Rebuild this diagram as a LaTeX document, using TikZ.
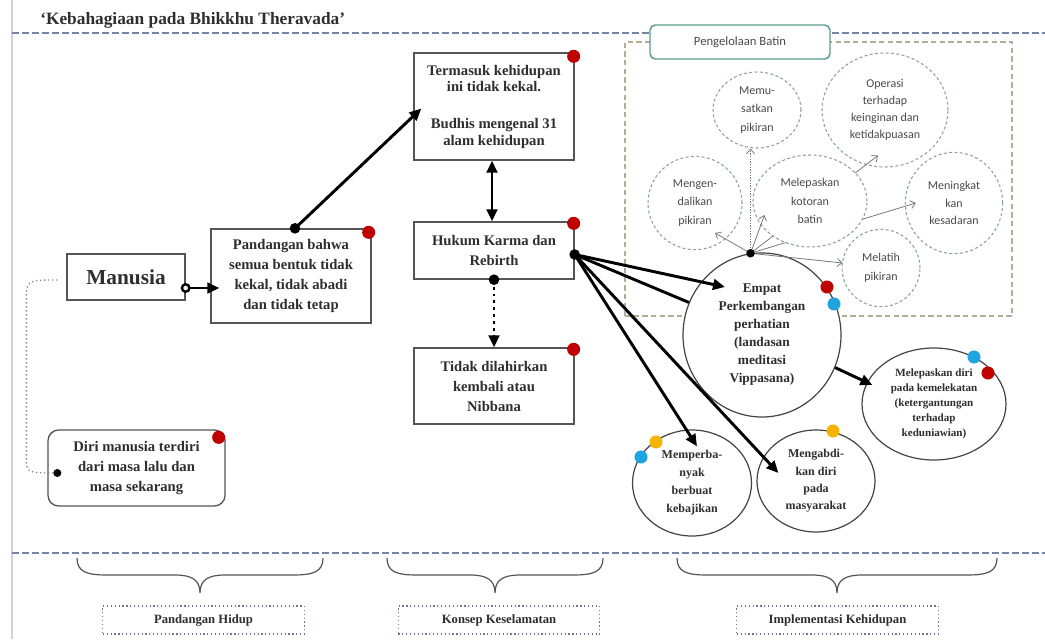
\documentclass[tikz,border=0pt]{standalone}
\usepackage{fontspec}
\setmainfont{Liberation Serif}
\newfontfamily\carl{Carlito}
\usetikzlibrary{arrows.meta,shapes.geometric,calc}
\definecolor{boxc}{HTML}{555555}
\definecolor{ellc}{HTML}{444444}
\definecolor{dcc}{HTML}{8AA39D}
\definecolor{tealc}{HTML}{5B9B8C}
\definecolor{rectc}{HTML}{B3AD96}
\definecolor{sepc}{HTML}{7884A6}
\definecolor{lblc}{HTML}{6C7598}
\definecolor{redc}{HTML}{C00000}
\definecolor{bluec}{HTML}{1FA4E0}
\definecolor{orgc}{HTML}{F4B400}
\definecolor{txt}{HTML}{2E2E2E}
\definecolor{txtg}{HTML}{4A4A4A}
\definecolor{thinc}{HTML}{7A7A7A}
\tikzset{
  box/.style={draw=boxc, line width=1pt, fill=white, align=center, text=txt,
    font=\bfseries\fontsize{11}{15}\selectfont, inner sep=0pt},
  ell/.style={ellipse, draw=ellc, line width=0.9pt, fill=white, align=center,
    text=txt, inner sep=0pt},
  dc/.style={ellipse, draw=dcc, line width=0.8pt, dash pattern=on 2.2pt off 1.8pt,
    align=center, text=txtg, font=\carl\fontsize{9}{14}\selectfont, inner sep=0pt},
  sepline/.style={draw=sepc, line width=1.2pt, dash pattern=on 5pt off 2.5pt},
  blk/.style={line width=2.2pt, black},
  arr/.style={blk, -{Triangle[length=9pt,width=8pt]}},
  thinarr/.style={draw=thinc, line width=0.6pt, -{Straight Barb[length=3.5pt,width=6pt]}},
  lbl/.style={draw=lblc, line width=0.9pt, dotted, minimum width=151pt, minimum height=21pt,
    font=\bfseries\fontsize{9.5}{11}\selectfont, text=txt, inner sep=0pt},
  brc/.style={draw=boxc, line width=0.9pt},
  rdot/.style={fill=redc},
  bdot/.style={fill=bluec},
  odot/.style={fill=orgc},
}
\begin{document}
\begin{tikzpicture}[x=0.75pt,y=-0.75pt]
\useasboundingbox (0,0) rectangle (1045,639);
\fill[white] (0,0) rectangle (1045,639);

% page border and separators
\draw[draw=black!18, line width=1.1pt] (12,0) -- (12,639);
\draw[sepline] (12,33) -- (1045,33);
\draw[sepline] (12,553) -- (1045,553);

\node[anchor=west, font=\bfseries\fontsize{13}{15}\selectfont, text=txt, inner sep=0pt] (title) at (40,20) {`Kebahagiaan pada Bhikkhu Theravada'};

% Pengelolaan Batin frame
\node[draw=rectc, dash pattern=on 4pt off 2.5pt, line width=0.9pt, minimum width=290.25pt, minimum height=205.5pt, inner sep=0pt] (frame) at (818.5,179) {};
\node[draw=tealc, rounded corners=4pt, line width=1.1pt, fill=white, minimum width=135pt, minimum height=25.5pt,
  font=\carl\fontsize{9.5}{11}\selectfont, text=txtg, inner sep=0pt] (pb) at (740,42) {Pengelolaan Batin};

% Empat circle
\node[ell, minimum width=118.5pt, minimum height=123pt, font=\bfseries\fontsize{10}{13.5}\selectfont] (emp) at (762,335)
  {Empat\\Perkembangan\\perhatian\\(landasan\\meditasi\\Vippasana)};
\coordinate (sd) at (emp.98);

% dashed circles (outline only)
\node[dc, minimum width=66pt, minimum height=57pt] (mem) at (757,110) {Memu-\\satkan\\pikiran};
\node[dc, minimum width=94.5pt, minimum height=85.5pt, font=\carl\fontsize{9}{12.75}\selectfont] (oper) at (885,110) {Operasi\\terhadap\\keinginan dan\\ketidakpuasan};
\node[dc, minimum width=70.5pt, minimum height=70pt] (mgd) at (695,203) {Mengen-\\dalikan\\pikiran};
\node[dc, minimum width=73pt, minimum height=76pt, font=\carl\fontsize{9}{13}\selectfont] (ming) at (954,203) {Meningkat\\kan\\kesadaran};
\node[dc, minimum width=58.5pt, minimum height=58pt] (mlt) at (881,268) {Melatih\\pikiran};

% lines hidden partly behind Melepaskan kotoran batin
\draw[thinarr] (sd) -- ($(oper.south)+(-7,-12)$);
\draw[thinarr] (sd) -- ($(ming.west)+(11,0)$);
\node[dc, fill=white, minimum width=85.5pt, minimum height=69pt] (lkb) at (810,201) {Melepaskan\\kotoran\\batin};

\draw[thinarr, dash pattern=on 1pt off 1pt] (sd) -- (sd |- mem.south);
\draw[thinarr] (sd) -- ($(mgd.center)+(20,30)$);
\draw[thinarr] (sd) -- ($(lkb.west)+(12,14)$);
\draw[thinarr] (sd) -- ($(mlt.west)+(1,-5)$);
\fill[black] (sd) circle[radius=3.2pt];

% left column
\node[box, minimum width=88.5pt, minimum height=34.5pt, font=\bfseries\fontsize{16}{18}\selectfont] (man) at (126,277) {Manusia};
\node[box, minimum width=120pt, minimum height=70.5pt] (pand) at (291,276) {Pandangan bahwa\\semua bentuk tidak\\kekal, tidak abadi\\dan tidak tetap};
\node[box, rounded corners=8pt, minimum width=132.75pt, minimum height=57pt] (diri) at (136.5,468) {Diri manusia terdiri\\dari masa lalu dan\\masa sekarang};

% middle column
\node[box, minimum width=120pt, minimum height=80.25pt, font=\bfseries\fontsize{11}{12.5}\selectfont] (term) at (494,106.5)
  {Termasuk kehidupan\\ini tidak kekal.\\[15pt]Budhis mengenal 31\\alam kehidupan};
\node[box, minimum width=120pt, minimum height=42.75pt] (huk) at (494,250.5) {Hukum Karma dan\\Rebirth};
\node[box, minimum width=120pt, minimum height=57pt] (tdk) at (494,386) {Tidak dilahirkan\\kembali atau\\Nibbana};

% right ellipses
\node[ell, minimum width=108pt, minimum height=84pt, font=\bfseries\fontsize{8.3}{11.2}\selectfont] (mld) at (934,404)
  {Melepaskan diri\\pada kemelekatan\\(ketergantungan\\terhadap\\keduniawian)};
\node[ell, minimum width=89.25pt, minimum height=79.5pt, font=\bfseries\fontsize{9}{13.5}\selectfont] (memp) at (692,483)
  {Memperba-\\nyak\\berbuat\\kebajikan};
\node[ell, minimum width=88.5pt, minimum height=76.5pt, font=\bfseries\fontsize{9}{13}\selectfont] (meng) at (816,481)
  {Mengabdi-\\kan diri\\pada\\masyarakat};

% connectors
\coordinate (ma) at ($(man.east)+(0,11)$);
\draw[arr] (ma) -- ($(ma -| pand.west)+(9,0)$);
\filldraw[fill=white, draw=black, line width=1.8pt] (ma) circle[radius=2.8pt];

\coordinate (pt) at ($(pand.north)+(4,0)$);
\draw[arr] (pt) -- ($(term.west)+(8,2)$);
\fill[black] (pt) circle[radius=4pt];

\draw[blk, {Triangle[length=9pt,width=8pt]}-{Triangle[length=9pt,width=8pt]}] ($(term.south)+(-2,0)$) -- ($(huk.north)+(-2,0)$);

\coordinate (hb) at (huk.south);
\draw[blk, dash pattern=on 2.2pt off 3pt, -{Triangle[length=9pt,width=8pt]}] (hb) -- (tdk.north);
\fill[black] (hb) circle[radius=4pt];

\coordinate (hk) at ($(huk.east)+(0,4)$);
\draw[arr] (hk) -- ($(emp.center)+(-37,-48)$);
\draw[blk] (hk) -- (emp.156);
\draw[arr] (hk) -- ($(memp.north)+(5,17)$);
\draw[arr] (hk) -- ($(meng.west)+(22,-8)$);
\fill[black] (hk) circle[radius=4pt];

\draw[arr] (emp.-24) -- ($(mld.west)+(11,-19)$);

\coordinate (dstart) at ($(man.west)+(-9,3)$);
\coordinate (dend) at ($(diri.west)+(10,5)$);
\draw[draw=black!45, line width=1pt, dotted] (dstart) .. controls ($(dstart)+(-31,0)$) .. ($(dstart)+(-31,22)$)
  -- ($(dend)+(-31,-16)$) .. controls ($(dend)+(-31,0)$) .. (dend);
\fill[black] (dend) circle[radius=3pt];

% colored markers
\fill[rdot] ($(pand.north east)+(-3,4)$) circle[radius=4.9pt];
\fill[rdot] ($(term.north east)+(-1,4)$) circle[radius=4.9pt];
\fill[rdot] ($(huk.north east)+(-1,2)$) circle[radius=4.9pt];
\fill[rdot] ($(tdk.north east)+(-1,2)$) circle[radius=4.9pt];
\fill[rdot] ($(diri.north east)+(-7,8)$) circle[radius=4.9pt];
\fill[rdot] ($(emp.center)+(65,-48)$) circle[radius=4.9pt];
\fill[bdot] ($(emp.center)+(72,-31)$) circle[radius=4.9pt];
\fill[bdot] ($(mld.center)+(40,-47)$) circle[radius=4.9pt];
\fill[rdot] ($(mld.center)+(54,-31)$) circle[radius=4.9pt];
\fill[odot] ($(memp.center)+(-36,-41)$) circle[radius=4.9pt];
\fill[bdot] ($(memp.center)+(-51,-26)$) circle[radius=4.9pt];
\fill[odot] ($(meng.center)+(17,-50)$) circle[radius=4.9pt];

% braces
\draw[brc] (77,558) .. controls (77,572) and (87,575) .. (107,575) -- (175,575)
  .. controls (192,575) and (200,580) .. (200,593) .. controls (200,580) and (208,575) .. (225,575)
  -- (293,575) .. controls (313,575) and (323,572) .. (323,558);
\draw[brc] (387,558) .. controls (387,572) and (397,575) .. (417,575) -- (470,575)
  .. controls (487,575) and (495,580) .. (495,593) .. controls (495,580) and (503,575) .. (520,575)
  -- (573,575) .. controls (593,575) and (603,572) .. (603,558);
\draw[brc] (677,558) .. controls (677,572) and (687,575) .. (707,575) -- (812,575)
  .. controls (829,575) and (837,580) .. (837,593) .. controls (837,580) and (845,575) .. (862,575)
  -- (967,575) .. controls (987,575) and (997,572) .. (997,558);

\node[lbl] (l1) at (203.5,620) {Pandangan Hidup};
\node[lbl] (l2) at (499,620) {Konsep Keselamatan};
\node[lbl] (l3) at (837.5,620) {Implementasi Kehidupan};
\end{tikzpicture}
\end{document}
